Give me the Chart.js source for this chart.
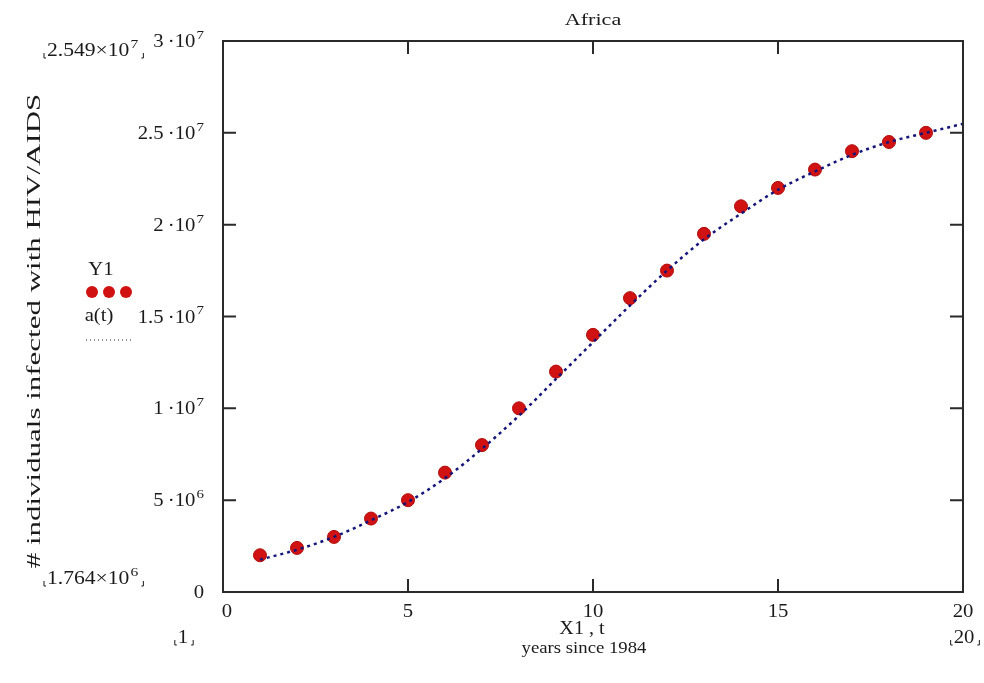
<!DOCTYPE html>
<html>
<head>
<meta charset="utf-8">
<script src="https://cdn.jsdelivr.net/npm/chart.js@4/dist/chart.umd.min.js"></script>
<style>
  html, body { margin: 0; background: #fff; }
  #wrap { width: 984px; height: 683px; }
</style>
</head>
<body>
<div id="wrap"><canvas id="chart" width="984" height="683"></canvas></div>
<script>
// measured counts (Y1) and fitted logistic curve a(t)
const years = [1, 2, 3, 4, 5, 6, 7, 8, 9, 10, 11, 12, 13, 14, 15, 16, 17, 18, 19];
const infected = [2.0e6, 2.4e6, 3.0e6, 4.0e6, 5.0e6, 6.5e6, 8.0e6, 10.0e6, 12.0e6, 14.0e6,
                  16.0e6, 17.5e6, 19.5e6, 21.0e6, 22.0e6, 23.0e6, 24.0e6, 24.5e6, 25.0e6];
const fitT = [1, 2, 3, 4, 5, 6, 7, 8, 9, 10, 11, 12, 13, 14, 15, 16, 17, 18, 19, 20];
const fitA = [1.764e6, 2.3e6, 3.0e6, 3.9e6, 4.9e6, 6.2e6, 7.8e6, 9.6e6, 11.6e6, 13.6e6,
              15.6e6, 17.5e6, 19.2e6, 20.6e6, 21.9e6, 22.9e6, 23.8e6, 24.5e6, 25.0e6, 25.49e6];

const xTicks = [0, 5, 10, 15, 20];
const yTicks = [0, 5e6, 1e7, 1.5e7, 2e7, 2.5e7, 3e7];
const yTickText = ["0", "5\u2009·10^6", "1\u2009·10^7", "1.5\u2009·10^7", "2\u2009·10^7", "2.5\u2009·10^7", "3\u2009·10^7"];

const FONT = "'Liberation Serif', 'Times New Roman', serif";
const INK = "#1a1a1a";
const RED = "#d01212";
const NAVY = "#14147a";

// text with an optional "^exp" superscript part, stretched horizontally by sx
function supText(ctx, text, x, y, size, align, sx = 1.15) {
  const [base, exp] = text.split("^");
  ctx.font = size + "px " + FONT;
  const wb = ctx.measureText(base).width;
  ctx.font = Math.round(size * 0.7) + "px " + FONT;
  const we = exp ? ctx.measureText(exp).width + 1 : 0;
  const total = (wb + we) * sx;
  const x0 = align === "right" ? x - total : align === "center" ? x - total / 2 : x;
  ctx.save();
  ctx.translate(x0, y);
  ctx.scale(sx, 1);
  ctx.textAlign = "left";
  ctx.textBaseline = "alphabetic";
  ctx.font = size + "px " + FONT;
  ctx.fillText(base, 0, 0);
  if (exp) {
    ctx.font = Math.round(size * 0.7) + "px " + FONT;
    ctx.fillText(exp, wb + 1, -size * 0.45);
  }
  ctx.restore();
  return { left: x0, right: x0 + total };
}

// little Mathcad-style corner marks around range values
function cornerMarks(ctx, left, right, base) {
  ctx.save();
  ctx.strokeStyle = INK;
  ctx.lineWidth = 1;
  ctx.beginPath();
  ctx.moveTo(left - 3, base - 3); ctx.lineTo(left - 3, base + 2); ctx.lineTo(left - 1, base + 2);
  ctx.moveTo(right + 5, base - 3); ctx.lineTo(right + 5, base + 2); ctx.lineTo(right + 3, base + 2);
  ctx.stroke();
  ctx.restore();
}

const framePlugin = {
  id: "frame",
  afterDraw(chart) {
    const { ctx, chartArea: a, scales: { x, y } } = chart;
    ctx.save();
    ctx.strokeStyle = "#2a2a2a";
    ctx.lineWidth = 2;
    ctx.strokeRect(a.left, a.top, a.right - a.left, a.bottom - a.top);

    // inward tick marks on all four sides
    ctx.beginPath();
    xTicks.slice(1, -1).forEach(v => {
      const px = x.getPixelForValue(v);
      ctx.moveTo(px, a.bottom); ctx.lineTo(px, a.bottom - 13);
      ctx.moveTo(px, a.top); ctx.lineTo(px, a.top + 13);
    });
    yTicks.slice(1, -1).forEach(v => {
      const py = y.getPixelForValue(v);
      ctx.moveTo(a.left, py); ctx.lineTo(a.left + 13, py);
      ctx.moveTo(a.right, py); ctx.lineTo(a.right - 13, py);
    });
    ctx.stroke();

    ctx.fillStyle = INK;
    // y tick labels
    yTicks.forEach((v, i) => {
      supText(ctx, yTickText[i], a.left - 19, y.getPixelForValue(v) + 6, 18, "right");
    });
    // x tick labels
    xTicks.forEach(v => {
      supText(ctx, String(v), x.getPixelForValue(v) + (v === 0 ? 4 : 0), a.bottom + 25, 18, "center");
    });

    // range markers
    let r = supText(ctx, "2.549×10^7", 47, 56, 18, "left", 1.2);
    cornerMarks(ctx, r.left, r.right, 56);
    r = supText(ctx, "1.764×10^6", 47, 584, 18, "left", 1.2);
    cornerMarks(ctx, r.left, r.right, 584);
    r = supText(ctx, "1", 183, 643, 18, "center");
    cornerMarks(ctx, r.left, r.right, 643);
    r = supText(ctx, "20", 964, 643, 18, "center");
    cornerMarks(ctx, r.left, r.right, 643);

    // titles
    supText(ctx, "Africa", 593, 25, 17, "center", 1.3);
    supText(ctx, "X1 , t", 582, 634, 18, "center", 1.12);
    supText(ctx, "years since 1984", 584, 653, 16, "center", 1.17);
    ctx.save();
    ctx.translate(40, 331);
    ctx.rotate(-Math.PI / 2);
    supText(ctx, "# individuals infected with HIV/AIDS", 0, 0, 18, "center", 1.72);
    ctx.restore();

    // legend
    supText(ctx, "Y1", 101, 275, 18, "center");
    ctx.fillStyle = RED;
    [92, 109, 126].forEach(cx => {
      ctx.beginPath(); ctx.arc(cx, 292, 6, 0, Math.PI * 2); ctx.fill();
    });
    ctx.fillStyle = INK;
    supText(ctx, "a(t)", 99, 321, 18, "center");
    ctx.strokeStyle = INK;
    ctx.lineWidth = 1;
    ctx.setLineDash([1, 3]);
    ctx.beginPath(); ctx.moveTo(86, 340); ctx.lineTo(132, 340); ctx.stroke();
    ctx.restore();
  }
};

new Chart(document.getElementById("chart"), {
  type: "scatter",
  data: {
    datasets: [
      {
        label: "a(t)",
        type: "line",
        data: fitT.map((t, i) => ({ x: t, y: fitA[i] })),
        borderColor: NAVY,
        borderWidth: 2.5,
        borderDash: [3, 4],
        pointRadius: 0,
        cubicInterpolationMode: "monotone",
        fill: false,
        order: 1,
      },
      {
        label: "Y1",
        data: years.map((t, i) => ({ x: t, y: infected[i] })),
        backgroundColor: RED,
        borderColor: "#b00c0c",
        borderWidth: 1,
        pointRadius: 6.5,
        order: 2,
      },
    ],
  },
  options: {
    responsive: false,
    animation: false,
    layout: { padding: { left: 223, right: 21, top: 41, bottom: 91 } },
    plugins: { legend: { display: false }, tooltip: { enabled: false } },
    scales: {
      x: { type: "linear", min: 0, max: 20, display: false },
      y: { type: "linear", min: 0, max: 3e7, display: false },
    },
  },
  plugins: [framePlugin],
});
</script>
</body>
</html>
